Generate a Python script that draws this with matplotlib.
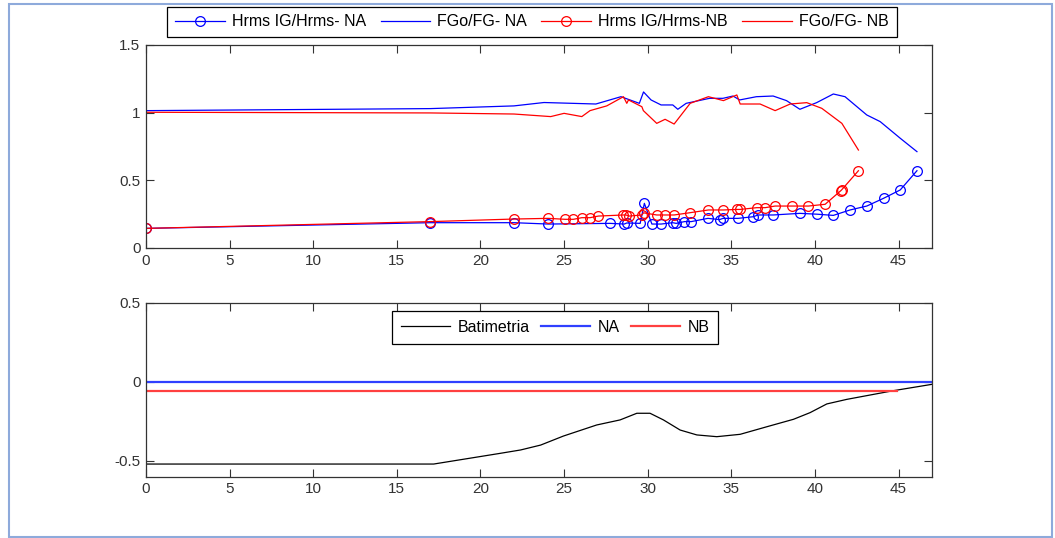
import matplotlib.pyplot as plt
from matplotlib.patches import Rectangle

# Hrms IG / Hrms (marcadores)
x_hrms_na = [0, 17, 22, 24.06, 27.75, 28.6, 28.75, 29.55, 29.8, 30.25, 30.8, 31.5, 31.7,
             32.2, 32.6, 33.6, 34.3, 34.5, 35.4, 36.3, 36.6, 37.5, 39.1, 40.1, 41.1,
             42.1, 43.1, 44.1, 45.1, 46.1]
hrms_na = [0.145, 0.187, 0.187, 0.177, 0.182, 0.177, 0.185, 0.182, 0.33, 0.177, 0.177,
           0.187, 0.182, 0.195, 0.195, 0.219, 0.21, 0.219, 0.219, 0.231, 0.244, 0.244,
           0.256, 0.25, 0.241, 0.281, 0.31, 0.367, 0.429, 0.571]

x_hrms_nb = [0, 17, 22, 24.06, 25.06, 25.56, 26.06, 26.55, 27.05, 28.55, 28.7, 28.9,
             29.65, 29.75, 30.54, 31.04, 31.58, 32.54, 33.63, 34.53, 35.33, 35.53,
             36.52, 37.02, 37.62, 38.62, 39.61, 40.61, 41.55, 41.6, 42.6]
hrms_nb = [0.145, 0.195, 0.214, 0.219, 0.212, 0.212, 0.224, 0.224, 0.236, 0.244, 0.244,
           0.236, 0.244, 0.26, 0.244, 0.244, 0.244, 0.261, 0.281, 0.281, 0.285, 0.285,
           0.298, 0.298, 0.31, 0.31, 0.31, 0.323, 0.424, 0.43, 0.571]

# FGo / FG
x_fg_na = [0, 17, 22, 23.8, 26.9, 28.4, 29.5, 29.75, 30.2, 30.8, 31.5, 31.8, 32.3, 33.7,
           34.5, 35.1, 35.5, 36.5, 37.5, 38.3, 39.1, 40.1, 41.1, 41.8, 43.1, 43.9, 45.1, 46.1]
fg_na = [1.015, 1.03, 1.05, 1.075, 1.064, 1.118, 1.069, 1.153, 1.094, 1.057, 1.057, 1.025,
         1.069, 1.106, 1.106, 1.123, 1.094, 1.118, 1.123, 1.089, 1.025, 1.074, 1.138,
         1.118, 0.983, 0.934, 0.811, 0.712]

x_fg_nb = [0, 17, 22, 24.2, 25.0, 26.06, 26.55, 27.55, 28.55, 28.75, 28.85, 29.65, 29.74,
           30.54, 31.04, 31.58, 32.54, 33.63, 34.53, 35.33, 35.53, 36.72, 37.62, 38.52,
           39.51, 40.41, 41.61, 42.6]
fg_nb = [1.003, 0.998, 0.99, 0.971, 0.995, 0.971, 1.015, 1.05, 1.118, 1.069, 1.094, 1.044,
         1.015, 0.921, 0.951, 0.916, 1.069, 1.118, 1.089, 1.131, 1.064, 1.064, 1.015,
         1.064, 1.074, 1.032, 0.921, 0.724]

# Batimetria y niveles
x_bat = [0, 17.2, 21.2, 22.4, 23.6, 24.96, 26.95, 28.35, 29.35, 30.14, 30.94, 31.94,
         32.94, 34.13, 35.53, 37.13, 38.72, 39.71, 40.71, 41.91, 44.7, 47.0]
bat = [-0.52, -0.52, -0.452, -0.431, -0.40, -0.343, -0.273, -0.241, -0.199, -0.199,
       -0.241, -0.305, -0.336, -0.347, -0.332, -0.284, -0.237, -0.195, -0.14, -0.111,
       -0.056, -0.016]
x_na = [0, 47]
nivel_na = [0, 0]
x_nb = [0, 44.9]
nivel_nb = [-0.06, -0.06]

xticks = [0, 5, 10, 15, 20, 25, 30, 35, 40, 45]

plt.rcParams['font.family'] = ['Liberation Sans', 'DejaVu Sans']
plt.rcParams['font.size'] = 11

fig = plt.figure(figsize=(10.55, 5.38), dpi=100)
ax1 = fig.add_axes([146 / 1055, 1 - 248 / 538, 786 / 1055, 203 / 538])
ax2 = fig.add_axes([146 / 1055, 1 - 476.7 / 538, 786 / 1055, 174 / 538])

mk = dict(marker='o', markersize=7, markerfacecolor='none', markeredgewidth=0.9)
l1, = ax1.plot(x_hrms_na, hrms_na, color='blue', lw=0.9, **mk)
l2, = ax1.plot(x_fg_na, fg_na, color='blue', lw=0.9)
l3, = ax1.plot(x_hrms_nb, hrms_nb, color='red', lw=0.9, **mk)
l4, = ax1.plot(x_fg_nb, fg_nb, color='red', lw=0.9)
ax1.set_xlim(0, 47)
ax1.set_ylim(0, 1.5)
ax1.set_yticks([0, 0.5, 1, 1.5])
ax1.set_yticklabels(['0', '0.5', '1', '1.5'])

b1, = ax2.plot(x_bat, bat, color='black', lw=0.9)
b2, = ax2.plot(x_na, nivel_na, color='#3040ff', lw=1.6)
b3, = ax2.plot(x_nb, nivel_nb, color='#ff4040', lw=1.6)
ax2.set_xlim(0, 47)
ax2.set_ylim(-0.6, 0.5)
ax2.set_yticks([-0.5, 0, 0.5])
ax2.set_yticklabels(['-0.5', '0', '0.5'])

for ax in (ax1, ax2):
    ax.set_xticks(xticks)
    ax.tick_params(direction='in', length=6, width=0.8, colors='#333333',
                   top=True, right=True, labelsize=11, pad=4)
    for s in ax.spines.values():
        s.set_color('#333333')
        s.set_linewidth(0.9)

leg1 = fig.legend([l1, l2, l3, l4],
                  ['Hrms IG/Hrms- NA', 'FGo/FG- NA', 'Hrms IG/Hrms-NB', 'FGo/FG- NB'],
                  loc='center', bbox_to_anchor=(532 / 1055, 1 - 22 / 538), ncol=4,
                  fancybox=False, edgecolor='black', framealpha=1, fontsize=11.5,
                  handlelength=3.1, columnspacing=0.9, handletextpad=0.45,
                  borderpad=0.5)
leg1.get_frame().set_linewidth(0.9)

leg2 = fig.legend([b1, b2, b3], ['Batimetria', 'NA', 'NB'],
                  loc='center', bbox_to_anchor=(555 / 1055, 1 - 327.5 / 538), ncol=3,
                  fancybox=False, edgecolor='black', framealpha=1, fontsize=11.5,
                  handlelength=3.1, columnspacing=0.7, handletextpad=0.45,
                  borderpad=0.55)
leg2.get_frame().set_linewidth(0.9)

# marco exterior de la captura
fig.add_artist(Rectangle((9 / 1055, 1.5 / 538), 1043 / 1055, 533 / 538,
                         transform=fig.transFigure, fill=False,
                         edgecolor='#8eaadb', lw=1.5))

fig.savefig('out.png', dpi=100)
plt.close(fig)
